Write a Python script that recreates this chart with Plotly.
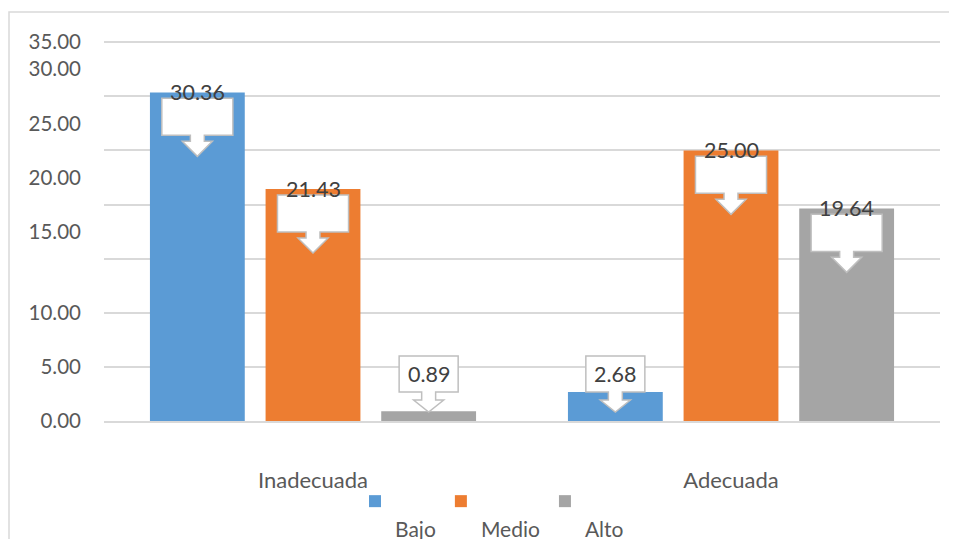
import plotly.graph_objects as go

categories = ["Inadecuada", "Adecuada"]
series_names = ["Bajo", "Medio", "Alto"]
bajo = [30.36, 2.68]
medio = [21.43, 25.00]
alto = [0.89, 19.64]
colors = ["#5b9bd5", "#ed7d31", "#a5a5a5"]
y_tick_values = [0, 5, 10, 15, 20, 25, 30, 35]
y_tick_labels = ["0.00", "5.00", "10.00", "15.00", "20.00", "25.00", "30.00", "35.00"]
# the source chart draws some tick labels half a step above their gridline
y_label_shift = [0, 0, 0, 2.5, 2.5, 2.5, 2.5, 0]
Y_MAX = 35.2

FONT = "Lato, 'Open Sans', sans-serif"
TXT = "#404040"
BARGAP = 0.17
GROUPGAP = 0.18

series_values = [bajo, medio, alto]
fig = go.Figure()
for name, vals, col in zip(series_names, series_values, colors):
    fig.add_trace(go.Bar(
        name="&nbsp;<br>" + name, x=categories, y=vals,
        marker=dict(color=col, line=dict(width=0)),
        hoverinfo="y",
    ))
# invisible helper trace so the label axis is drawn
fig.add_trace(go.Scatter(x=categories, y=[0, 0], yaxis="y2", mode="markers",
                         marker=dict(opacity=0), showlegend=False, hoverinfo="skip"))

# callouts (box + block arrow) built from data values
slot = (1 - BARGAP) / len(series_names)
shapes = []
annotations = []
for si, vals in enumerate(series_values):
    for ci, v in enumerate(vals):
        c = ci + (si - (len(series_names) - 1) / 2) * slot
        if v >= 5:
            bw, top, bot, stem_end, tip = 0.085, v - 0.55, v - 3.97, v - 4.52, v - 5.91
            ty = v
        else:
            bw, top, bot, stem_end, tip = 0.0706, 6.0, 2.68, 1.94, 0.83
            ty = 4.3
        sw, hw = 0.0167, 0.036
        path = (f"M{c-bw},{top} L{c+bw},{top} L{c+bw},{bot} L{c+sw},{bot} "
                f"L{c+sw},{stem_end} L{c+hw},{stem_end} L{c},{tip} L{c-hw},{stem_end} "
                f"L{c-sw},{stem_end} L{c-sw},{bot} L{c-bw},{bot} Z")
        shapes.append(dict(type="path", path=path, xref="x", yref="y",
                           fillcolor="white", line=dict(color="#bfbfbf", width=1.5),
                           layer="above"))
        annotations.append(dict(x=c, y=ty, xref="x", yref="y", text=f"{v:.2f}",
                                showarrow=False, yanchor="middle",
                                font=dict(family=FONT, size=21.5, color=TXT)))

# page body has an 8px margin, so the figure is laid out 8px up/left
OFF = 8
L, R, B = 104 - OFF, 940 - OFF, 421 - OFF
UNIT = (421 - 42) / 35
T = round(B - Y_MAX * UNIT)
W, H = R - L, B - T
shapes.append(dict(type="rect", xref="paper", yref="paper",
                   x0=(9 - OFF - L) / W, x1=(990 - L) / W,
                   y0=(B - 580) / H, y1=(B - (12 - OFF)) / H,
                   line=dict(color="#d9d9d9", width=1.5), fillcolor="rgba(0,0,0,0)",
                   layer="below"))

fig.update_layout(
    width=957, height=539,
    margin=dict(l=L, r=957 - R, t=T, b=539 - B, autoexpand=False),
    paper_bgcolor="white", plot_bgcolor="white",
    barmode="group", bargap=BARGAP, bargroupgap=GROUPGAP,
    font=dict(family=FONT, size=20, color="#595959"),
    showlegend=True,
    legend=dict(orientation="h", x=(484 - L) / W, xanchor="center", y=(B - 473) / H,
                yanchor="top", valign="top", font=dict(size=21, color="#595959"),
                tracegroupgap=0, itemwidth=30,
                bgcolor="rgba(0,0,0,0)", itemclick=False),
    xaxis=dict(type="category", showgrid=False, showline=True, linecolor="#d9d9d9",
               linewidth=1.5, ticks="", ticklabelstandoff=39,
               tickfont=dict(size=22, color="#595959")),
    yaxis=dict(range=[0, Y_MAX], tickvals=y_tick_values, showticklabels=False,
               showgrid=True, gridcolor="#d9d9d9", gridwidth=1.5,
               zeroline=False, showline=False, ticks=""),
    yaxis2=dict(range=[0, Y_MAX], overlaying="y", side="left", showgrid=False,
                zeroline=False, showline=False, ticks="",
                tickvals=[v + s for v, s in zip(y_tick_values, y_label_shift)],
                ticktext=y_tick_labels, ticklabelstandoff=22,
                tickfont=dict(size=20.5, color="#595959")),
    shapes=shapes,
    annotations=annotations,
)

fig.write_html("out.html")
